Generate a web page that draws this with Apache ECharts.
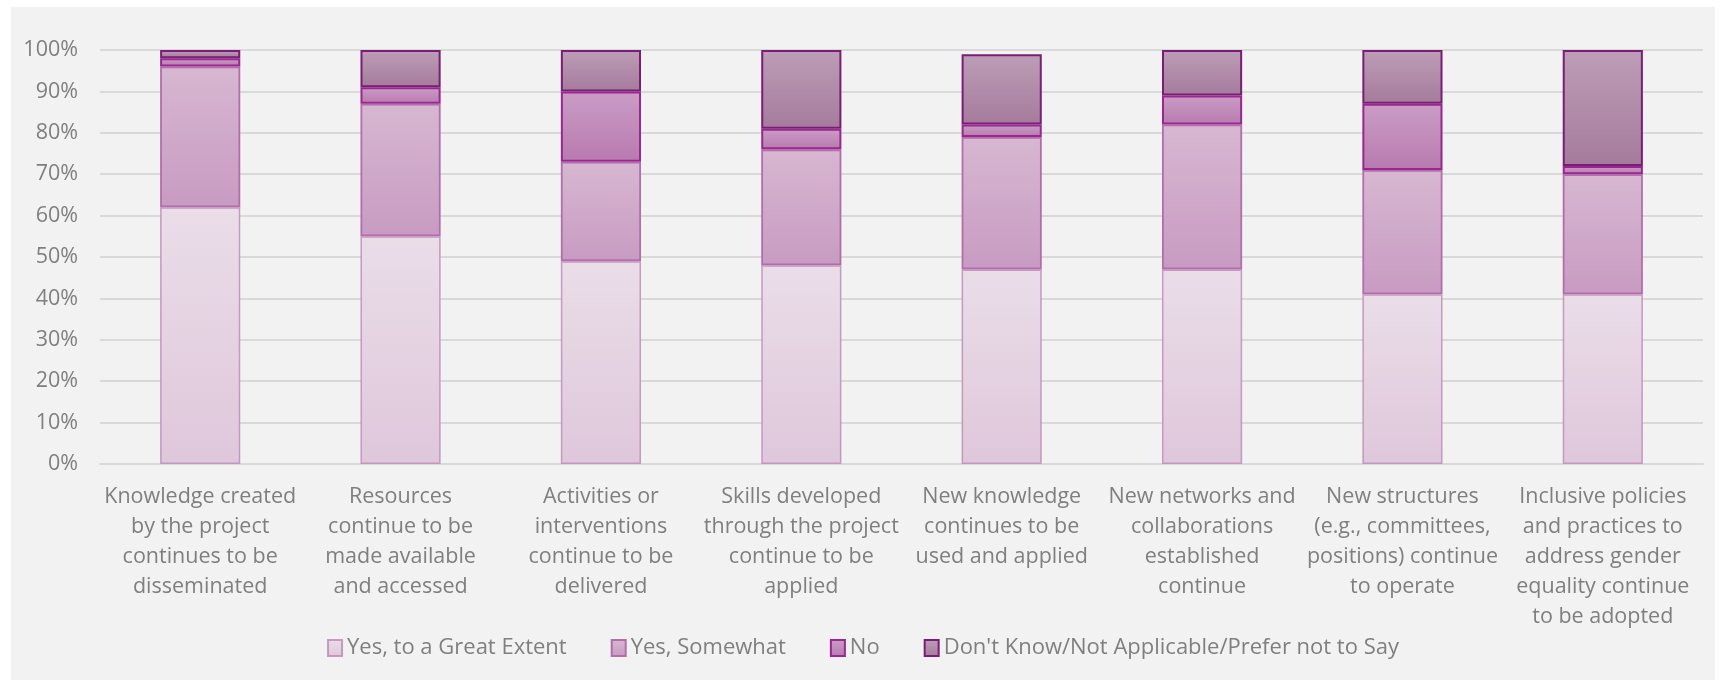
<!DOCTYPE html>
<html>
<head>
<meta charset="utf-8">
<script src="https://cdn.jsdelivr.net/npm/echarts@6/dist/echarts.min.js"></script>
<style>
html,body{margin:0;padding:0;background:#ffffff;}
#chart{width:1726px;height:681px;}
</style>
</head>
<body>
<div id="chart"></div>
<script>
const categories = [
  "Knowledge created\nby the project\ncontinues to be\ndisseminated",
  "Resources\ncontinue to be\nmade available\nand accessed",
  "Activities or\ninterventions\ncontinue to be\ndelivered",
  "Skills developed\nthrough the project\ncontinue to be\napplied",
  "New knowledge\ncontinues to be\nused and applied",
  "New networks and\ncollaborations\nestablished\ncontinue",
  "New structures\n(e.g., committees,\npositions) continue\nto operate",
  "Inclusive policies\nand practices to\naddress gender\nequality continue\nto be adopted"
];
const seriesNames = [
  "Yes, to a Great Extent",
  "Yes, Somewhat",
  "No",
  "Don't Know/Not Applicable/Prefer not to Say"
];
const greatExtent = [62, 55, 49, 48, 47, 47, 41, 41];
const somewhat    = [34, 32, 24, 28, 32, 35, 30, 29];
const no          = [2, 4, 17, 5, 3, 7, 16, 2];
const dontKnow    = [2, 9, 10, 19, 17, 11, 13, 28];
const yTicks = [0, 10, 20, 30, 40, 50, 60, 70, 80, 90, 100];

const values = [greatExtent, somewhat, no, dontKnow];
const styles = [
  {top:'#eadde8', bottom:'#dfc7db', border:'rgba(190,140,186,0.85)', bw:1.5},
  {top:'#d7b7d1', bottom:'#c89bc2', border:'#b26dab', bw:1.8},
  {top:'#ca9cc5', bottom:'#b87aaf', border:'#9a2690', bw:2},
  {top:'#bd9db7', bottom:'#a57b9c', border:'#7a1d74', bw:2}
];
const font = '"Open Sans", "Noto Sans", sans-serif';
const textColor = '#7f7f7f';

const chart = echarts.init(document.getElementById('chart'), null, {renderer:'canvas'});
chart.setOption({
  backgroundColor: '#ffffff',
  animation: false,
  graphic: [{
    type: 'rect', z: -10, silent: true,
    shape: {x: 11, y: 7, width: 1704, height: 673},
    style: {fill: '#f2f2f2'}
  }],
  grid: {left: 100, right: 23, top: 50, bottom: 217, containLabel: false},
  legend: {
    data: seriesNames,
    bottom: 17,
    left: 'center',
    itemWidth: 14,
    itemHeight: 16,
    itemGap: 44,
    icon: 'rect',
    textStyle: {color: textColor, fontSize: 22, fontFamily: font, padding: [0,0,0,0]}
  },
  xAxis: {
    type: 'category',
    data: categories,
    axisTick: {show: false},
    axisLine: {lineStyle: {color: '#d9d9d9', width: 2}},
    axisLabel: {
      interval: 0,
      color: textColor,
      fontSize: 21.5,
      fontFamily: font,
      lineHeight: 30,
      margin: 18,
      align: 'center'
    }
  },
  yAxis: {
    type: 'value',
    min: 0, max: 100, interval: 10,
    axisLine: {show: false},
    axisTick: {show: false},
    splitLine: {lineStyle: {color: '#d9d9d9', width: 2}},
    axisLabel: {
      color: textColor, fontSize: 21.5, fontFamily: font, margin: 22,
      formatter: v => yTicks.includes(v) ? v + '%' : ''
    }
  },
  series: values.map((vals, i) => ({
    name: seriesNames[i],
    type: 'bar',
    stack: 'total',
    barWidth: '40%',
    data: vals,
    itemStyle: {
      color: new echarts.graphic.LinearGradient(0, 0, 0, 1, [
        {offset: 0, color: styles[i].top},
        {offset: 1, color: styles[i].bottom}
      ]),
      borderColor: styles[i].border,
      borderWidth: styles[i].bw
    },
    emphasis: {disabled: true}
  }))
});
</script>
</body>
</html>
